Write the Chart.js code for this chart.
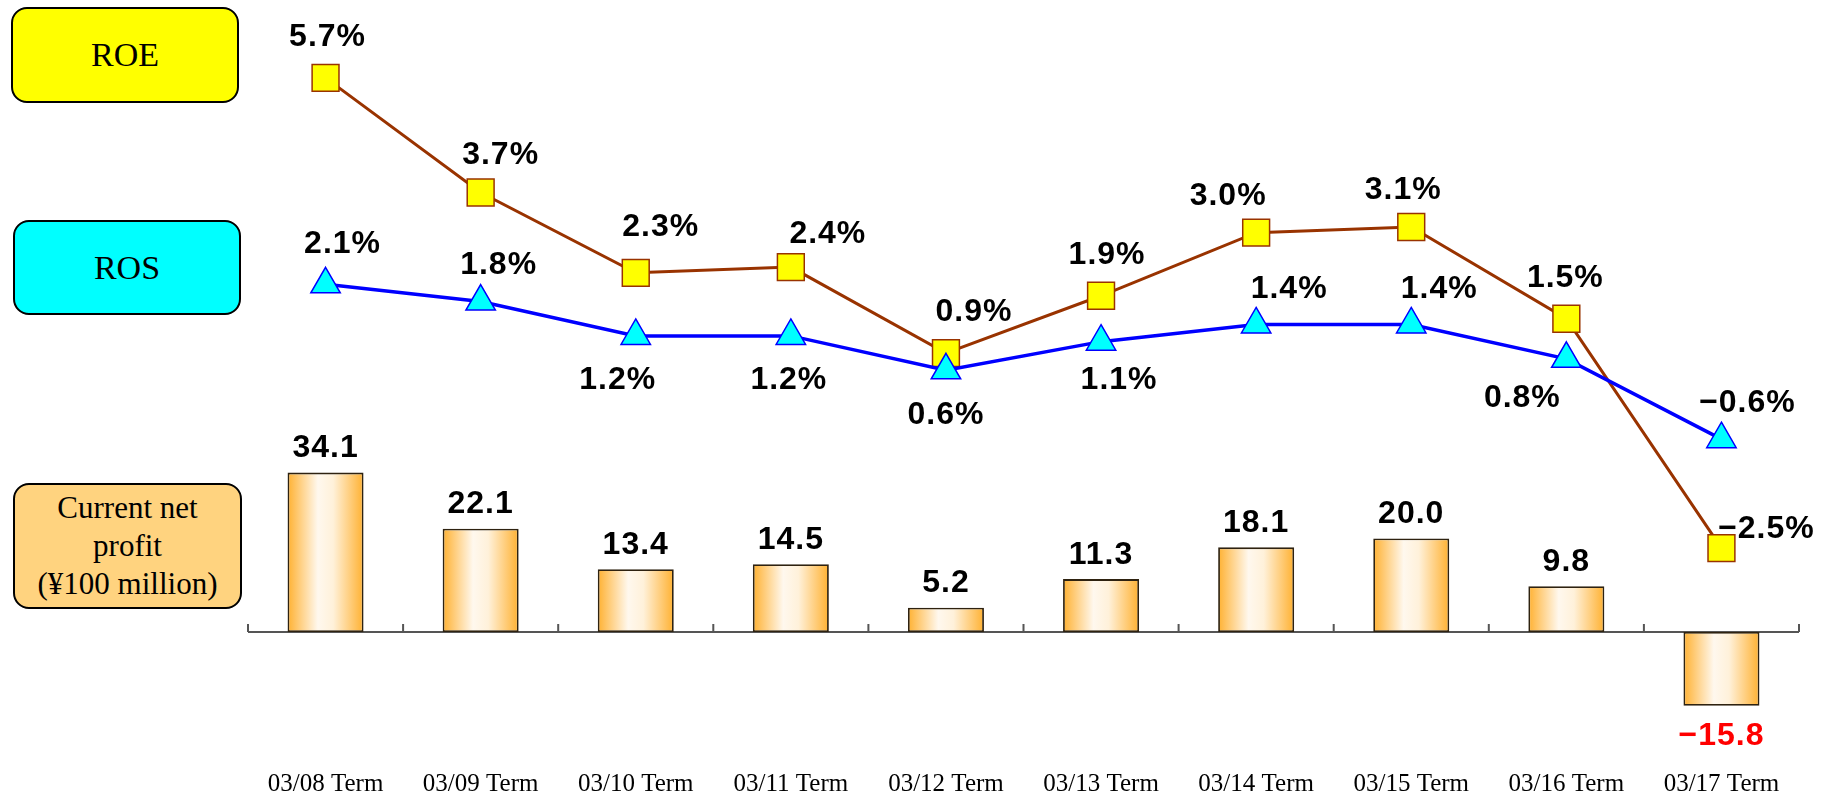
<!DOCTYPE html>
<html>
<head>
<meta charset="utf-8">
<script src="https://cdn.jsdelivr.net/npm/chart.js@4"></script>
<style>
  html, body { margin: 0; padding: 0; background: #fff; }
  #wrap { position: relative; width: 1836px; height: 797px; }
  .box {
    position: absolute; box-sizing: border-box; border: 2px solid #000; border-radius: 16px;
    font-family: "Liberation Serif", serif; color: #000;
    display: flex; align-items: center; justify-content: center; text-align: center;
  }
  #roeBox { left: 11px; top: 7px; width: 228px; height: 96px; background: #ffff00; font-size: 34px; }
  #rosBox { left: 13px; top: 220px; width: 228px; height: 95px; background: #00ffff; font-size: 34px; }
  #profitBox { left: 13px; top: 483px; width: 229px; height: 126px; background: #ffd37f; font-size: 31px; line-height: 38px; }
</style>
</head>
<body>
<div id="wrap">
  <canvas id="chart" width="1836" height="797"></canvas>
  <div class="box" id="roeBox">ROE</div>
  <div class="box" id="rosBox">ROS</div>
  <div class="box" id="profitBox">Current net<br>profit<br>(¥100 million)</div>
</div>
<script>
'use strict';

//--------> Data <--------
const terms = ['03/08 Term', '03/09 Term', '03/10 Term', '03/11 Term', '03/12 Term',
  '03/13 Term', '03/14 Term', '03/15 Term', '03/16 Term', '03/17 Term'];
const netProfit = [34.1, 22.1, 13.4, 14.5, 5.2, 11.3, 18.1, 20.0, 9.8, -15.8];
const roe = [5.7, 3.7, 2.3, 2.4, 0.9, 1.9, 3.0, 3.1, 1.5, -2.5];
const ros = [2.1, 1.8, 1.2, 1.2, 0.6, 1.1, 1.4, 1.4, 0.8, -0.6];

// label offsets from the marker centre (px), one per point
const roeLabelShift = [[2, -41], [20, -37], [25, -46], [37, -33], [28, -41],
  [6, -41], [-28, -37], [-8, -37], [-1, -41], [45, -19]];
const rosLabelShift = [[17, -40], [18, -36], [-18, 44], [-2, 44], [0, 45],
  [18, 39], [33, -35], [28, -35], [-44, 39], [26, -36]];

function fmt (v, suffix) {
  let s = Math.abs(v).toFixed(1) + suffix;
  return v < 0 ? '\u2212' + s : s;
}

// horizontal gradient across each bar
function barGradient (ctx) {
  const chart = ctx.chart;
  const x = chart.scales.x;
  if (!x || !chart.chartArea || ctx.type !== 'data') return '#ffc060';
  const w = (x.width / terms.length) * 0.49;
  const cx = x.getPixelForValue(ctx.dataIndex);
  const g = chart.ctx.createLinearGradient(cx - w / 2, 0, cx + w / 2, 0);
  g.addColorStop(0, '#ffb131');
  g.addColorStop(0.4, '#fff8ee');
  g.addColorStop(0.6, '#fff1da');
  g.addColorStop(1, '#ffb131');
  return g;
}

//--------> Zero line and value labels <--------
const extras = {
  id: 'extras',
  beforeDatasetsDraw (chart) {
    const c = chart.ctx;
    const x = chart.scales.x;
    const y0 = chart.scales.yBar.getPixelForValue(0);
    const step = x.width / terms.length;
    c.save();
    c.strokeStyle = '#555';
    c.lineWidth = 2;
    c.beginPath();
    c.moveTo(x.left, y0);
    c.lineTo(x.right, y0);
    for (let i = 0; i <= terms.length; i++) {
      c.moveTo(x.left + i * step, y0);
      c.lineTo(x.left + i * step, y0 - 8);
    }
    c.stroke();
    c.restore();
  },
  afterDatasetsDraw (chart) {
    const c = chart.ctx;
    c.save();
    c.font = 'bold 32px "Liberation Sans", Arial, sans-serif';
    c.letterSpacing = '1px';
    c.textAlign = 'center';
    c.textBaseline = 'middle';

    chart.getDatasetMeta(2).data.forEach((bar, i) => {
      const v = netProfit[i];
      c.fillStyle = v < 0 ? '#ff0000' : '#000';
      const ty = v < 0 ? bar.y + 30 : bar.y - 24;
      c.fillText(fmt(v, ''), bar.x, ty);
    });

    c.fillStyle = '#000';
    chart.getDatasetMeta(1).data.forEach((pt, i) => {
      c.fillText(fmt(roe[i], '%'), pt.x + roeLabelShift[i][0], pt.y + roeLabelShift[i][1]);
    });
    chart.getDatasetMeta(0).data.forEach((pt, i) => {
      c.fillText(fmt(ros[i], '%'), pt.x + rosLabelShift[i][0], pt.y + rosLabelShift[i][1]);
    });
    c.restore();
  }
};

//--------> Chart <--------
const ctx = document.getElementById('chart').getContext('2d');
const profitChart = new Chart(ctx, {
  type: 'bar',
  data: {
    labels: terms,
    datasets: [{
      type: 'line',
      label: 'ROS',
      data: ros,
      yAxisID: 'yLine',
      borderColor: '#0000ff',
      borderWidth: 3.5,
      pointStyle: 'triangle',
      pointRadius: 17,
      pointBackgroundColor: '#00ffff',
      pointBorderColor: '#0000ff',
      pointBorderWidth: 1.5,
      order: 0
    }, {
      type: 'line',
      label: 'ROE',
      data: roe,
      yAxisID: 'yLine',
      borderColor: '#993300',
      borderWidth: 3,
      pointStyle: 'rect',
      pointRadius: 19,
      pointBackgroundColor: '#ffff00',
      pointBorderColor: '#993300',
      pointBorderWidth: 1.5,
      order: 1
    }, {
      label: 'Current net profit',
      data: netProfit,
      yAxisID: 'yBar',
      backgroundColor: barGradient,
      borderColor: '#2e2210',
      borderWidth: 1.8,
      borderSkipped: false,
      barPercentage: 0.49,
      categoryPercentage: 1,
      order: 2
    }]
  },
  options: {
    responsive: false,
    animation: false,
    layout: { padding: { left: 248, right: 37, top: 20, bottom: 0 } },
    plugins: {
      legend: { display: false },
      tooltip: { enabled: false }
    },
    scales: {
      x: {
        grid: { display: false, drawTicks: false },
        border: { display: false },
        ticks: {
          padding: -2,
          color: '#000',
          font: { family: '"Liberation Serif", serif', size: 25 }
        }
      },
      yBar: { display: false, min: -29.76, max: 130.84 },
      yLine: { display: false, min: -6.387, max: 6.70 }
    }
  },
  plugins: [extras]
});
</script>
</body>
</html>
